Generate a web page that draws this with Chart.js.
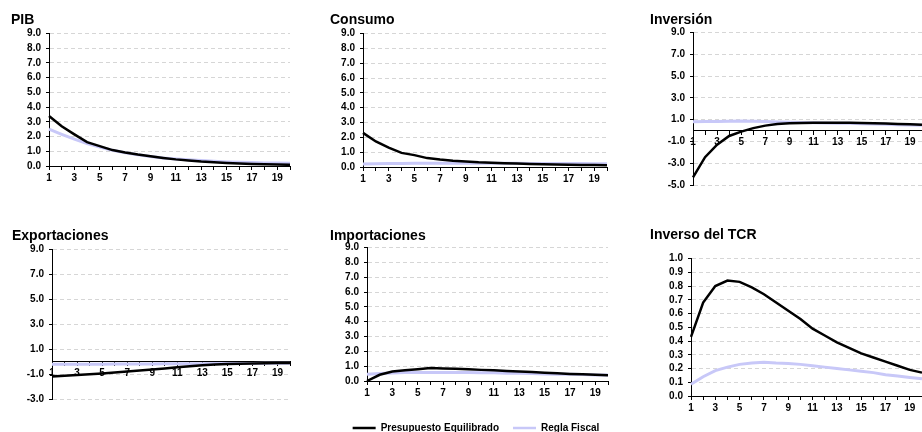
<!DOCTYPE html>
<html lang="es">
<head>
<meta charset="utf-8">
<title>Respuesta a un choque fiscal</title>
<script src="https://cdn.jsdelivr.net/npm/chart.js@4.4.1/dist/chart.umd.min.js"></script>
<style>
  html, body { margin: 0; padding: 0; background: #ffffff; }
  body { position: relative; width: 922px; height: 432px; overflow: hidden; }
  canvas { position: absolute; }
</style>
</head>
<body>
<script>
// Trimestres después del choque
const periods = ['1','2','3','4','5','6','7','8','9','10','11','12','13','14','15','16','17','18','19','20'];

const seriesNames = ['Presupuesto Equilibrado', 'Regla Fiscal'];

// PIB
const pibEquilibrado = [3.40, 2.70, 2.15, 1.62, 1.35, 1.08, 0.92, 0.78, 0.66, 0.55, 0.45, 0.38, 0.31, 0.26, 0.21, 0.17, 0.14, 0.12, 0.10, 0.08];
const pibRegla       = [2.50, 2.15, 1.82, 1.52, 1.28, 1.07, 0.90, 0.76, 0.64, 0.55, 0.48, 0.42, 0.37, 0.32, 0.28, 0.25, 0.23, 0.21, 0.20, 0.19];

// Consumo
const consumoEquilibrado = [2.30, 1.72, 1.30, 0.95, 0.80, 0.60, 0.50, 0.42, 0.37, 0.32, 0.29, 0.26, 0.23, 0.21, 0.19, 0.17, 0.16, 0.14, 0.13, 0.12];
const consumoRegla       = [0.20, 0.22, 0.23, 0.24, 0.25, 0.25, 0.25, 0.25, 0.25, 0.25, 0.25, 0.25, 0.25, 0.24, 0.24, 0.24, 0.23, 0.23, 0.22, 0.22];

// Inversión
const inversionEquilibrado = [-4.30, -2.45, -1.30, -0.50, -0.10, 0.22, 0.45, 0.60, 0.66, 0.70, 0.72, 0.72, 0.72, 0.71, 0.69, 0.67, 0.64, 0.61, 0.57, 0.53];
const inversionRegla       = [0.80, 0.82, 0.84, 0.86, 0.88, 0.86, 0.82, 0.78, 0.75, 0.73, 0.72, 0.70, 0.68, 0.66, 0.63, 0.60, 0.57, 0.54, 0.51, 0.48];

// Exportaciones
const exportEquilibrado = [-1.20, -1.14, -1.08, -1.02, -0.95, -0.88, -0.80, -0.72, -0.64, -0.55, -0.46, -0.37, -0.29, -0.24, -0.20, -0.17, -0.15, -0.13, -0.12, -0.11];
const exportRegla       = [-0.22, -0.22, -0.22, -0.21, -0.21, -0.20, -0.20, -0.19, -0.19, -0.18, -0.18, -0.17, -0.17, -0.16, -0.16, -0.15, -0.15, -0.14, -0.14, -0.13];

// Importaciones
const importEquilibrado = [0.00, 0.42, 0.64, 0.73, 0.80, 0.87, 0.84, 0.82, 0.79, 0.75, 0.72, 0.68, 0.64, 0.60, 0.56, 0.52, 0.48, 0.45, 0.42, 0.39];
const importRegla       = [0.45, 0.50, 0.54, 0.57, 0.58, 0.58, 0.58, 0.58, 0.57, 0.56, 0.55, 0.53, 0.52, 0.50, 0.48, 0.46, 0.45, 0.43, 0.41, 0.40];

// Inverso del tipo de cambio real
const tcrEquilibrado = [0.43, 0.68, 0.80, 0.84, 0.83, 0.79, 0.74, 0.68, 0.62, 0.56, 0.49, 0.44, 0.39, 0.35, 0.31, 0.28, 0.25, 0.22, 0.19, 0.17];
const tcrRegla       = [0.085, 0.14, 0.185, 0.21, 0.23, 0.24, 0.245, 0.24, 0.237, 0.23, 0.22, 0.21, 0.20, 0.19, 0.18, 0.17, 0.155, 0.145, 0.135, 0.125];

const COLOR_EQ = '#000000';
const COLOR_RF = '#c8c8f8';
const GRID_COLOR = '#d6d6d6';
const FONT = "'Liberation Sans', Arial, Helvetica, sans-serif";

Chart.defaults.font.family = FONT;
Chart.defaults.color = '#000000';

// Nudges the legend row sideways so it sits under the middle of the figure.
const legendShift = {
  id: 'legendShift',
  afterLayout(chart, args, opts) {
    const lg = chart.legend;
    if (lg && opts.dx) { lg.left += opts.dx; lg.right += opts.dx; }
  }
};

function makePanel(p) {
  const canvas = document.createElement('canvas');
  canvas.width = p.box.width;
  canvas.height = p.box.height;
  canvas.style.left = p.box.left + 'px';
  canvas.style.top = p.box.top + 'px';
  canvas.style.width = p.box.width + 'px';
  canvas.style.height = p.box.height + 'px';
  document.body.appendChild(canvas);

  const xScale = {
    type: 'category',
    offset: false,
    grid: {
      display: true,
      drawOnChartArea: false,
      drawTicks: true,
      tickLength: 4,
      tickColor: '#000000',
      tickWidth: 1
    },
    border: { display: true, color: '#000000', width: 1 },
    ticks: {
      autoSkip: false,
      maxRotation: 0,
      minRotation: 0,
      padding: 2,
      font: { size: 10, weight: 'bold' },
      callback: function (value, index) {
        return index % 2 === 0 ? this.getLabelForValue(value) : '';
      }
    }
  };
  if (p.xAtZero) {
    xScale.position = { y: 0 };
  } else {
    xScale.position = 'bottom';
    xScale.afterFit = (s) => { s.height = p.xHeight; };
  }

  const yScale = {
    type: 'linear',
    position: 'left',
    min: p.yMin,
    max: p.yMax,
    afterFit: (s) => { s.width = p.yWidth; },
    grid: {
      display: true,
      drawOnChartArea: true,
      color: GRID_COLOR,
      lineWidth: 1,
      drawTicks: true,
      tickLength: 3,
      tickColor: '#000000',
      tickWidth: 1
    },
    border: { display: true, color: '#000000', width: 1, dash: [4, 3] },
    ticks: {
      stepSize: p.yStep,
      autoSkip: false,
      padding: 5,
      font: { size: 10, weight: 'bold' },
      callback: (v) => Number(v).toFixed(1)
    }
  };

  const legend = p.legend ? {
    display: true,
    position: 'bottom',
    labels: {
      boxWidth: 23,
      boxHeight: 2.5,
      padding: 14,
      color: '#000000',
      font: { size: 10, weight: 'bold' },
      generateLabels: (chart) =>
        Chart.defaults.plugins.legend.labels.generateLabels(chart).map(l => Object.assign(l, { lineWidth: 0 }))
    }
  } : { display: false };

  return new Chart(canvas, {
    type: 'line',
    plugins: [legendShift],
    data: {
      labels: periods,
      datasets: [
        {
          label: seriesNames[0],
          data: p.eq,
          borderColor: COLOR_EQ,
          backgroundColor: COLOR_EQ,
          borderWidth: 2.5,
          pointRadius: 0,
          tension: 0,
          fill: false
        },
        {
          label: seriesNames[1],
          data: p.rf,
          borderColor: COLOR_RF,
          backgroundColor: COLOR_RF,
          borderWidth: 3,
          pointRadius: 0,
          tension: 0,
          fill: false
        }
      ]
    },
    options: {
      responsive: false,
      animation: false,
      devicePixelRatio: 1,
      layout: { padding: { left: 0, right: 0, top: 0, bottom: p.padBottom } },
      scales: { x: xScale, y: yScale },
      plugins: {
        title: {
          display: true,
          text: p.title,
          align: 'start',
          color: '#000000',
          font: { size: 14, weight: 'bold' },
          padding: { top: p.titleTop, bottom: p.titleBottom }
        },
        legend: legend,
        legendShift: { dx: p.legendDx || 0 },
        tooltip: { enabled: false }
      }
    }
  });
}

makePanel({
  title: 'PIB', eq: pibEquilibrado, rf: pibRegla,
  box: { left: 11, top: 0, width: 281, height: 186 },
  yWidth: 38, xHeight: 20, padBottom: 0,
  titleTop: 11.4, titleBottom: 5.3,
  yMin: 0, yMax: 9, yStep: 1
});

makePanel({
  title: 'Consumo', eq: consumoEquilibrado, rf: consumoRegla,
  box: { left: 330, top: 0, width: 279, height: 187 },
  yWidth: 33, xHeight: 20, padBottom: 0,
  titleTop: 11.4, titleBottom: 5.3,
  yMin: 0, yMax: 9, yStep: 1
});

makePanel({
  title: 'Inversión', eq: inversionEquilibrado, rf: inversionRegla,
  box: { left: 650, top: 0, width: 274, height: 196 },
  yWidth: 43, xAtZero: true, padBottom: 8,
  titleTop: 11.4, titleBottom: 4.3,
  yMin: -5, yMax: 9, yStep: 2
});

makePanel({
  title: 'Exportaciones', eq: exportEquilibrado, rf: exportRegla,
  box: { left: 12, top: 215, width: 280, height: 195 },
  yWidth: 40, xAtZero: true, padBottom: 8,
  titleTop: 12.4, titleBottom: 5.3,
  yMin: -3, yMax: 9, yStep: 2
});

makePanel({
  title: 'Importaciones', eq: importEquilibrado, rf: importRegla,
  box: { left: 330, top: 215, width: 280, height: 228 },
  yWidth: 37, xHeight: 28, padBottom: 0,
  titleTop: 12.4, titleBottom: 3.3,
  yMin: 0, yMax: 9, yStep: 1, legend: true, legendDx: 6
});

makePanel({
  title: 'Inverso del TCR', eq: tcrEquilibrado, rf: tcrRegla,
  box: { left: 650, top: 215, width: 274, height: 201 },
  yWidth: 41, xHeight: 20, padBottom: 0,
  titleTop: 11.4, titleBottom: 15.3,
  yMin: 0, yMax: 1, yStep: 0.1
});
</script>
</body>
</html>
